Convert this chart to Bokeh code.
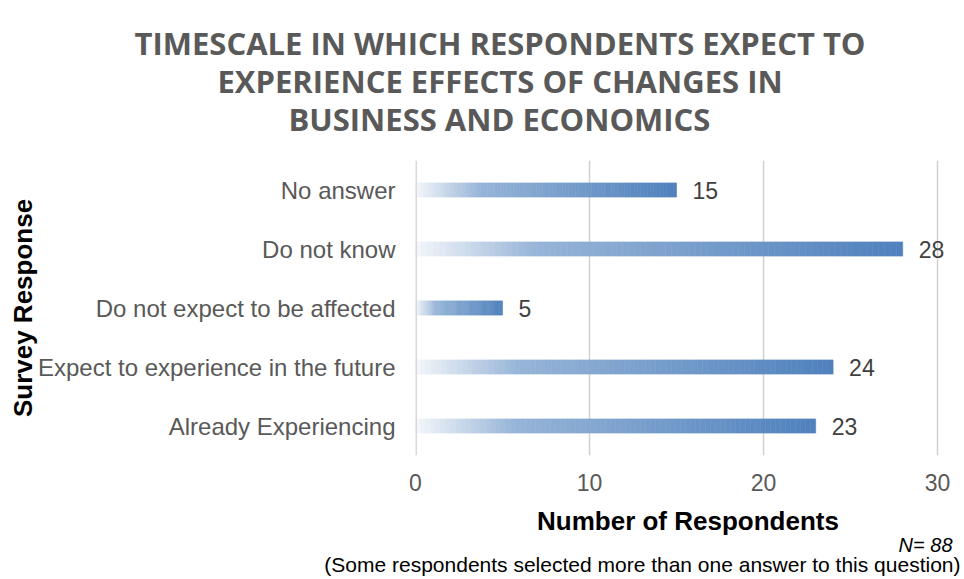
import numpy as np
from bokeh.plotting import figure
from bokeh.models import (ColumnDataSource, FactorRange, Range1d, LabelSet, Span,
                          FixedTicker, Title)
from bokeh.core.properties import value
from bokeh.embed import file_html
from bokeh.resources import INLINE

# ---- data ----
categories = ["Already Experiencing", "Expect to experience in the future",
              "Do not expect to be affected", "Do not know", "No answer"]
counts = [23, 24, 5, 28, 15]
x_ticks = [0, 10, 20, 30]
title_lines = ["TIMESCALE IN WHICH RESPONDENTS EXPECT TO",
               "EXPERIENCE EFFECTS OF CHANGES IN",
               "BUSINESS AND ECONOMICS"]
x_title = "Number of Respondents"
y_title = "Survey Response"
n_note = "N= 88"
footnote = "(Some respondents selected more than one answer to this question)"

# ---- layout constants ----
W, H = 960, 579
FL, F30, FT, FB = 415, 937, 160, 455   # frame left, x=30 position, top, bottom
x_end = x_ticks[-1] * (W - FL) / (F30 - FL)

GREY = "#595959"
FONT = "Liberation Sans"

p = figure(width=W, height=H,
           y_range=FactorRange(factors=categories, range_padding=0),
           x_range=Range1d(x_ticks[0], x_end),
           output_backend="svg", toolbar_location=None,
           min_border_left=FL, min_border_right=0,
           min_border_top=FT, min_border_bottom=H - FB)
p.outline_line_color = None
p.background_fill_color = "white"
p.border_fill_color = "white"

# grid
p.ygrid.grid_line_color = None
p.xgrid.ticker = FixedTicker(ticks=x_ticks)
p.xgrid.grid_line_color = "#d0d0d0"
p.xgrid.grid_line_width = 1.5
p.add_layout(Span(location=x_ticks[0], dimension="height", line_color="#d9d9d9", line_width=3))

# gradient bars built from segments
N = 80
white = np.array([244, 247, 251], float)
mid = np.array([150, 180, 215], float)
blue = np.array([79, 129, 189], float)

def grad(t):
    if t < 0.25:
        c = white + (mid - white) * (t / 0.25)
    else:
        c = mid + (blue - mid) * ((t - 0.25) / 0.75)
    return "#%02x%02x%02x" % tuple(int(round(v)) for v in c)

seg_y, seg_l, seg_r, seg_c = [], [], [], []
for cat, v in zip(categories, counts):
    for i in range(N):
        seg_y.append(cat)
        seg_l.append(v * i / N)
        seg_r.append(v * (i + 1) / N)
        seg_c.append(grad((i + 0.5) / N))
seg_src = ColumnDataSource(dict(y=seg_y, left=seg_l, right=seg_r, color=seg_c))
p.hbar(y="y", left="left", right="right", height=0.24, fill_color="color",
       line_color="color", line_width=0.6, source=seg_src)

# value labels
lab_src = ColumnDataSource(dict(y=categories, x=counts, t=[str(c) for c in counts]))
p.add_layout(LabelSet(x="x", y="y", text="t", source=lab_src, x_offset=16,
                      text_baseline="middle", text_align="left",
                      text_font=value(FONT), text_font_size=value("23px"),
                      text_color="#404040"))

# axes
p.xaxis.ticker = FixedTicker(ticks=x_ticks)
p.xaxis.axis_line_color = None
p.xaxis.major_tick_line_color = None
p.xaxis.minor_tick_line_color = None
p.xaxis.major_label_standoff = 12
p.xaxis.major_label_text_font = FONT
p.xaxis.major_label_text_font_size = "23px"
p.xaxis.major_label_text_color = GREY
p.xaxis.axis_label = x_title
p.xaxis.axis_label_text_font = FONT
p.xaxis.axis_label_text_font_size = "26px"
p.xaxis.axis_label_text_font_style = "bold"
p.xaxis.axis_label_text_color = "black"
p.xaxis.axis_label_standoff = 12

p.yaxis.axis_line_color = None
p.yaxis.major_tick_line_color = None
p.yaxis.minor_tick_line_color = None
p.yaxis.major_label_standoff = 14
p.yaxis.major_label_text_font = FONT
p.yaxis.major_label_text_font_size = "24px"
p.yaxis.major_label_text_color = GREY
p.yaxis.axis_label = y_title
p.yaxis.axis_label_text_font = FONT
p.yaxis.axis_label_text_font_size = "26px"
p.yaxis.axis_label_text_font_style = "bold"
p.yaxis.axis_label_text_color = "black"
p.yaxis.axis_label_standoff = -3

# gap between the title block and the plot area
p.add_layout(Title(text=" ", standoff=7, text_font=FONT, text_font_size="12px"), "above")

# title lines: one Title per line, left-aligned with an offset from the frame's left
title_left = [134, 217, 288]
title_standoff = [-4, -8, -4]
for line, lx, so in reversed(list(zip(title_lines, title_left, title_standoff))):
    p.add_layout(Title(text=line, align="left", offset=lx - FL, standoff=so,
                       text_font="Open Sans", text_font_style="bold",
                       text_font_size="31px", text_color=GREY), "above")

# notes below the x axis title
p.add_layout(Title(text=n_note, align="right", offset=W - 952, standoff=-14,
                   text_font=FONT, text_font_style="italic", text_font_size="20px",
                   text_color="black"), "below")
p.add_layout(Title(text=footnote, align="right", offset=0, standoff=5,
                   text_font=FONT, text_font_style="normal", text_font_size="21px",
                   text_color="black"), "below")

open("out.html", "w").write(file_html(p, INLINE))
